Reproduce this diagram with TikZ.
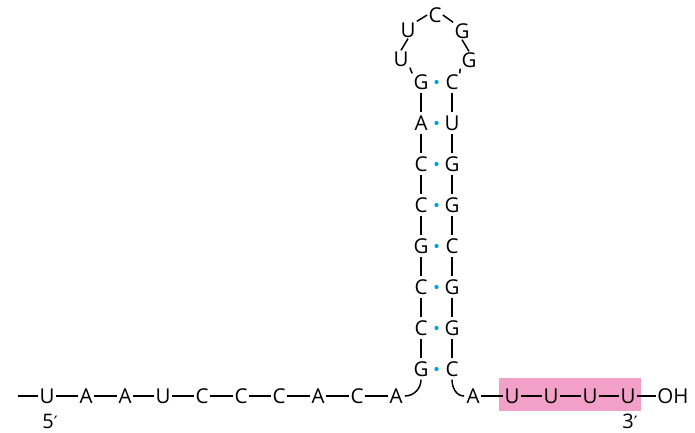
\documentclass[tikz,border=0pt]{standalone}
\usepackage{fontspec}
\setmainfont{Open Sans}
\newfontfamily\primefont{DejaVu Sans}
\begin{document}
\begin{tikzpicture}[x=1pt,y=-1pt,
  base/.style={font=\fontsize{20.5}{21}\selectfont, inner sep=1.2pt, text height=14.5pt, text depth=0pt},
  bond/.style={line width=1.5pt, black},
  pairdot/.style={circle, fill=dotblue, inner sep=0pt, minimum size=4.2pt},
  endlabel/.style={font=\fontsize{20}{21}\selectfont, inner sep=0pt, text height=14pt, text depth=0pt}]
\definecolor{dotblue}{RGB}{0,160,225}
\definecolor{hlpink}{RGB}{243,160,200}
\useasboundingbox (0,0) rectangle (695,433);
% highlight box
\fill[hlpink] (499,378) rectangle (641,411);
% bottom left strand
\coordinate (start) at (18,396);
\foreach \n/\x/\t in {1/47/U,2/86/A,3/125/A,4/163/U,5/202/C,6/241/C,7/279/C,8/318/A,9/357/C,10/396/A}
  \node[base] (b\n) at (\x,396) {\t};
% right strand
\foreach \n/\x/\t in {1/473/A,2/512/U,3/551/U,4/590/U,5/628/U}
  \node[base] (r\n) at (\x,396) {\t};
\node[base] (oh) at (673,396) {OH};
% stem
\foreach \n/\y/\l/\r in {1/82/G/C,2/123/A/U,3/164/C/G,4/205/C/G,5/246/G/C,6/287/C/G,7/328/C/G,8/369/G/C}{
  \node[base] (L\n) at (421,\y) {\l};
  \node[base] (R\n) at (452,\y) {\r};
  \node[pairdot] (d\n) at (436.5,\y) {};
}
% loop
\node[base] (u1) at (401,59) {U};
\node[base] (u2) at (408,30) {U};
\node[base] (c1) at (435,15) {C};
\node[base] (g1) at (462,31) {G};
\node[base] (g2) at (469,60) {G};
% 5' and 3'
\node[endlabel] (five) at (50,421) {5{\primefont\fontsize{17}{17}\selectfont ′}};
\node[endlabel] (three) at (630,421) {3{\primefont\fontsize{17}{17}\selectfont ′}};
% bonds
\draw[bond] (start) -- (b1.west);
\foreach \a/\b in {1/2,2/3,3/4,4/5,5/6,6/7,7/8,8/9,9/10}
  \draw[bond] (b\a.east) -- (b\b.west);
\foreach \a/\b in {1/2,2/3,3/4,4/5}
  \draw[bond] (r\a.east) -- (r\b.west);
\draw[bond] (r5.east) -- (oh.west);
\foreach \a/\b in {1/2,2/3,3/4,4/5,5/6,6/7,7/8}{
  \draw[bond] ([yshift=-2pt]L\a.south) -- ([yshift=2pt]L\b.north);
  \draw[bond] ([yshift=-2pt]R\a.south) -- ([yshift=2pt]R\b.north);
}
\draw[bond] ([yshift=-2pt]L8.south) to[out=-90,in=0] ([xshift=1pt]b10.east);
\draw[bond] ([yshift=-2pt]R8.south) to[out=-90,in=180] ([xshift=-1pt]r1.west);
% loop bonds
\draw[bond] (L1.north west) -- (u1.south east);
\draw[bond] (u1.north) -- (u2.south);
\draw[bond] (u2.north east) -- (c1.west);
\draw[bond] (c1.east) -- (g1.north west);
\draw[bond] (g1.south) -- (g2.north);
\draw[bond] (g2.south west) -- (R1.north east);
\end{tikzpicture}
\end{document}
